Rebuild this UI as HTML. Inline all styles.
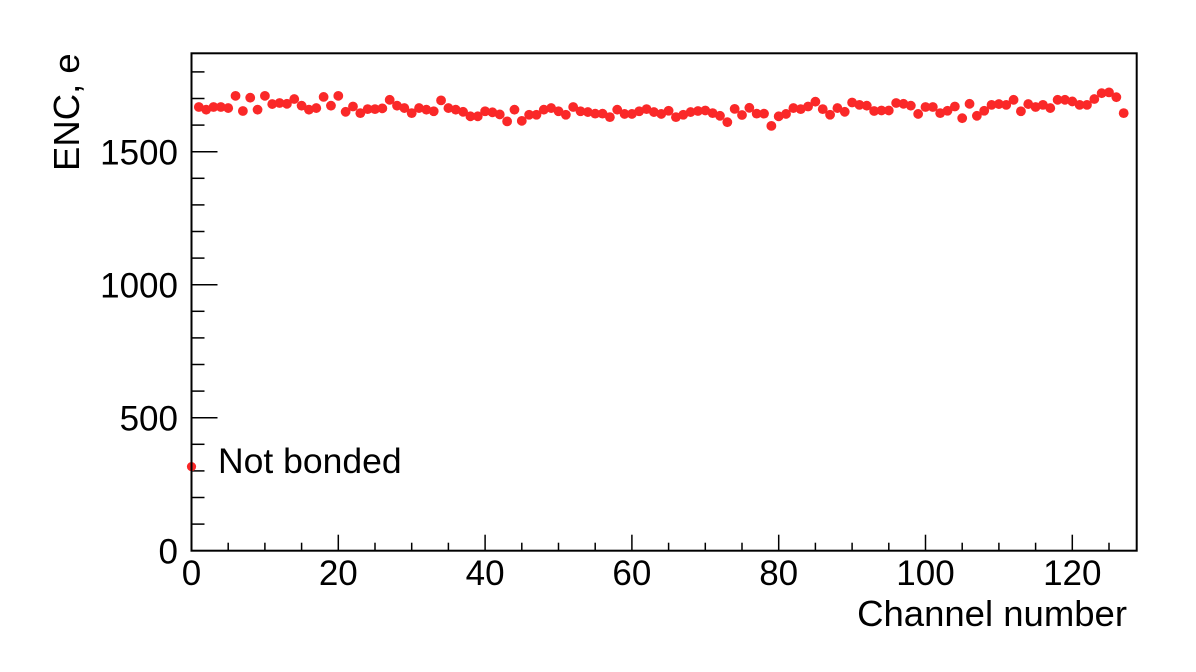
<!DOCTYPE html>
<html><head><meta charset="utf-8"><style>
html,body{margin:0;padding:0;background:#fff;}
svg{display:block;font-family:"Liberation Sans",Arial,sans-serif;}
</style></head><body>
<svg id="chart" width="1196" height="672" viewBox="0 0 1196 672" xmlns="http://www.w3.org/2000/svg">
<rect x="0" y="0" width="1196" height="672" fill="#fff"/>
<g id="ticks"></g>
<g id="points"></g>
<rect x="191.5" y="53.3" width="945.2" height="497.4" fill="none" stroke="#000" stroke-width="2"/>
<g id="labels" font-size="35" fill="#000"></g>
<text x="1127" y="626" font-size="36.5" text-anchor="end">Channel number</text>
<text transform="translate(79,171) rotate(-90)" font-size="36.5">ENC, e</text>
<text x="218" y="473" font-size="35.5">Not bonded</text>
</svg>
<script>
const encValues = [1668,1658,1668,1668,1664,1710,1653,1703,1658,1710,1679,1683,1680,1698,1673,1658,1664,1706,1673,1710,1650,1670,1645,1660,1660,1663,1695,1673,1664,1645,1664,1658,1652,1693,1664,1658,1650,1633,1633,1652,1648,1640,1614,
1658,1616,1639,1639,1658,1664,1652,1639,1668,1652,1649,1643,1643,1630,1658,1642,1642,1652,1660,1649,1642,1654,1630,1639,1649,1653,1655,1645,1635,1611,1661,1638,1665,1643,1643,1597,1633,1642,1664,1660,1670,1688,
1660,1639,1664,1650,1685,1676,1673,1653,1655,1655,1683,1680,1673,1642,1668,1668,1645,1654,1670,1626,1680,1635,1654,1676,1679,1676,1695,1652,1679,1668,1676,1664,1695,1695,1689,1676,1676,1698,1720,1723,1705,1645];
const notBondedChannels = [0];
const notBondedValues = [316];
const yTickValues = [0,500,1000,1500];
const xTickValues = [0,20,40,60,80,100,120];

const X0=191.5, PXX=7.34, Y0=550.7, PXY=0.266;
function sx(c){return X0+c*PXX;}
function sy(v){return Y0-v*PXY;}
const NS="http://www.w3.org/2000/svg";
const pts=document.getElementById('points');
const ticks=document.getElementById('ticks');
const labels=document.getElementById('labels');

encValues.forEach((v,i)=>{
  const c=document.createElementNS(NS,'circle');
  c.setAttribute('cx',sx(i+1));c.setAttribute('cy',sy(v));c.setAttribute('r',4.9);c.setAttribute('fill','#fa2828');
  
  
  pts.appendChild(c);
});
notBondedValues.forEach((v,i)=>{
  const c=document.createElementNS(NS,'circle');
  c.setAttribute('cx',sx(notBondedChannels[i]));c.setAttribute('cy',sy(v));c.setAttribute('r',4.6);c.setAttribute('fill','#fa2828');
  
  
  pts.appendChild(c);
});
function line(x1,y1,x2,y2){
  const l=document.createElementNS(NS,'line');
  l.setAttribute('x1',x1);l.setAttribute('y1',y1);l.setAttribute('x2',x2);l.setAttribute('y2',y2);
  l.setAttribute('stroke','#000');l.setAttribute('stroke-width',1.5);
  
  
  ticks.appendChild(l);
}
for(let v=0;v<=1800;v+=100){const y=sy(v);line(X0,y,X0+(v%500===0?26:13),y);}
for(let c=0;c<=128;c+=5){const x=sx(c);line(x,Y0,x,Y0-(c%20===0?16:8));}
yTickValues.forEach(v=>{
  const t=document.createElementNS(NS,'text');
  t.setAttribute('x',178);t.setAttribute('y',sy(v)+13);t.setAttribute('text-anchor','end');
  t.textContent=v;
  
  
  labels.appendChild(t);
});
xTickValues.forEach(v=>{
  const t=document.createElementNS(NS,'text');
  t.setAttribute('x',sx(v));t.setAttribute('y',585);t.setAttribute('text-anchor','middle');
  t.textContent=v;
  
  
  labels.appendChild(t);
});
</script>
</body></html>
